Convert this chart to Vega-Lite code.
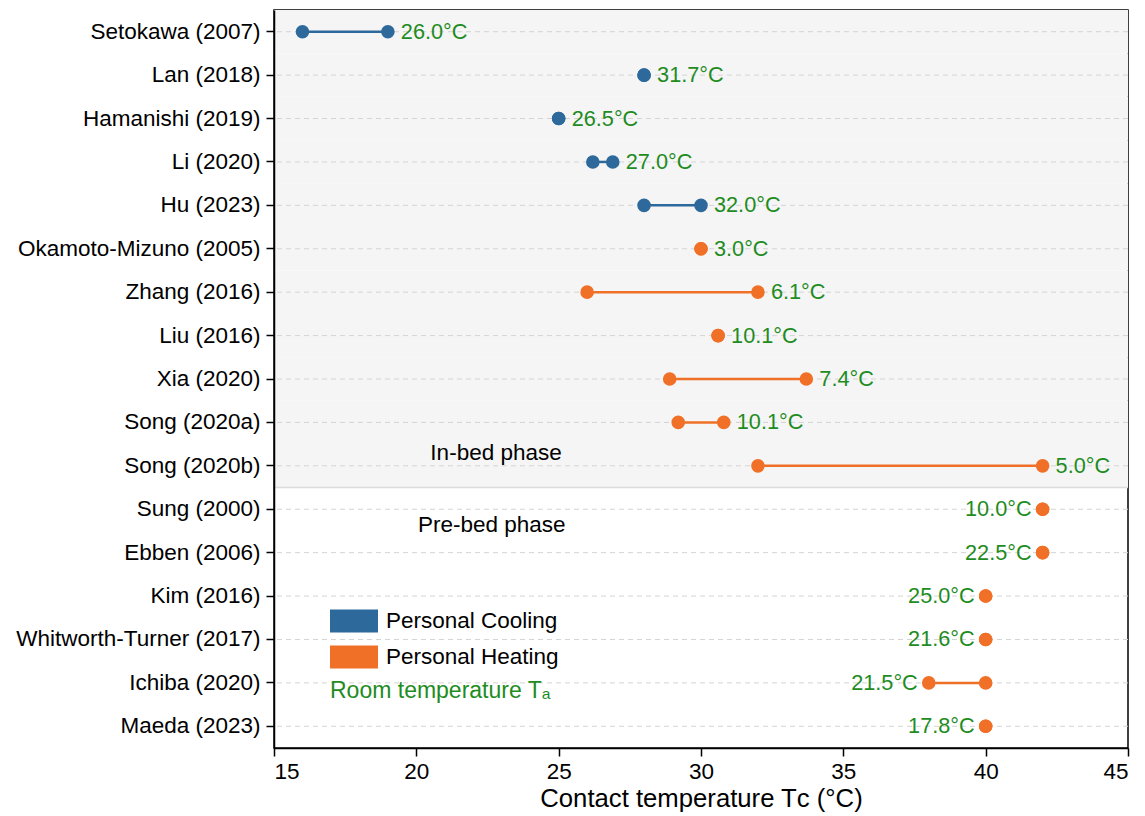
{
  "$schema": "https://vega.github.io/schema/vega-lite/v6.json",
  "width": 854,
  "height": 738,
  "autosize": {"type": "none"},
  "padding": {"left": 274, "top": 10, "right": 17, "bottom": 68},
  "background": "white",
  "config": {
    "font": "Liberation Sans",
    "view": {"stroke": "black", "strokeWidth": 1.5},
    "axis": {"domainColor": "black", "domainWidth": 1.5, "tickColor": "black", "tickWidth": 1.5, "tickSize": 8, "labelColor": "black", "labelFontSize": 22.5, "labelLimit": 0, "titleColor": "black", "titleFontWeight": "normal", "grid": false},
    "legend": {
      "orient": "none", "legendX": 56, "legendY": 587,
      "titleOrient": "bottom", "titleAnchor": "start",
      "titleColor": "#1e8c1e", "titleFontSize": 23, "titleFontWeight": "normal", "titlePadding": 11, "titleLimit": 0,
      "symbolType": "M-1,-0.48H1V0.48H-1Z", "symbolSize": 2304, "symbolStrokeWidth": 0, "symbolOpacity": 1,
      "labelFontSize": 22.5, "labelColor": "black", "labelOffset": 8, "labelLimit": 0, "rowPadding": -12
    }
  },
  "datasets": {
    "studies": [
      {"name": "Setokawa (2007)", "type": "Personal Cooling", "phase": "in", "min": 16, "max": 19, "label": "26.0°C"},
      {"name": "Lan (2018)", "type": "Personal Cooling", "phase": "in", "min": 28, "max": 28, "label": "31.7°C"},
      {"name": "Hamanishi (2019)", "type": "Personal Cooling", "phase": "in", "min": 25, "max": 25, "label": "26.5°C"},
      {"name": "Li (2020)", "type": "Personal Cooling", "phase": "in", "min": 26.2, "max": 26.9, "label": "27.0°C"},
      {"name": "Hu (2023)", "type": "Personal Cooling", "phase": "in", "min": 28, "max": 30, "label": "32.0°C"},
      {"name": "Okamoto-Mizuno (2005)", "type": "Personal Heating", "phase": "in", "min": 30, "max": 30, "label": "3.0°C"},
      {"name": "Zhang (2016)", "type": "Personal Heating", "phase": "in", "min": 26, "max": 32, "label": "6.1°C"},
      {"name": "Liu (2016)", "type": "Personal Heating", "phase": "in", "min": 30.6, "max": 30.6, "label": "10.1°C"},
      {"name": "Xia (2020)", "type": "Personal Heating", "phase": "in", "min": 28.9, "max": 33.7, "label": "7.4°C"},
      {"name": "Song (2020a)", "type": "Personal Heating", "phase": "in", "min": 29.2, "max": 30.8, "label": "10.1°C"},
      {"name": "Song (2020b)", "type": "Personal Heating", "phase": "in", "min": 32, "max": 42, "label": "5.0°C"},
      {"name": "Sung (2000)", "type": "Personal Heating", "phase": "pre", "min": 42, "max": 42, "label": "10.0°C"},
      {"name": "Ebben (2006)", "type": "Personal Heating", "phase": "pre", "min": 42, "max": 42, "label": "22.5°C"},
      {"name": "Kim (2016)", "type": "Personal Heating", "phase": "pre", "min": 40, "max": 40, "label": "25.0°C"},
      {"name": "Whitworth-Turner (2017)", "type": "Personal Heating", "phase": "pre", "min": 40, "max": 40, "label": "21.6°C"},
      {"name": "Ichiba (2020)", "type": "Personal Heating", "phase": "pre", "min": 38, "max": 40, "label": "21.5°C"},
      {"name": "Maeda (2023)", "type": "Personal Heating", "phase": "pre", "min": 40, "max": 40, "label": "17.8°C"}
    ],
    "phases": [
      {"text": "In-bed phase", "x": 22.8, "row": "Song (2020b)", "phase": "in"},
      {"text": "Pre-bed phase", "x": 22.65, "row": "Sung (2000)", "phase": "pre"}
    ]
  },
  "data": {"name": "studies"},
  "encoding": {
    "y": {
      "field": "name", "type": "nominal",
      "scale": {"type": "band", "paddingInner": 0, "paddingOuter": 0,
        "domain": ["Setokawa (2007)", "Lan (2018)", "Hamanishi (2019)", "Li (2020)", "Hu (2023)", "Okamoto-Mizuno (2005)", "Zhang (2016)", "Liu (2016)", "Xia (2020)", "Song (2020a)", "Song (2020b)", "Sung (2000)", "Ebben (2006)", "Kim (2016)", "Whitworth-Turner (2017)", "Ichiba (2020)", "Maeda (2023)"]},
      "axis": {"title": null, "bandPosition": 0.5, "labelPadding": 6}
    }
  },
  "layer": [
    {
      "transform": [{"filter": "datum.phase === 'in'"}],
      "mark": {"type": "rect", "fill": "#f5f5f5"},
      "encoding": {}
    },
    {
      "mark": {"type": "rule", "color": "#d4d4d4", "strokeWidth": 1, "strokeDash": [5, 4]},
      "encoding": {}
    },
    {
      "transform": [{"filter": "datum.name === 'Song (2020b)'"}],
      "mark": {"type": "rule", "color": "#dcdcdc", "strokeWidth": 1.5},
      "encoding": {"y": {"field": "name", "type": "nominal", "bandPosition": 1}}
    },
    {
      "mark": {"type": "rule", "strokeWidth": 2.5},
      "encoding": {
        "x": {"field": "min", "type": "quantitative", "scale": {"domain": [15, 45], "nice": false}, "axis": {"values": [15, 20, 25, 30, 35, 40, 45], "title": "Contact temperature Tᴄ (°C)", "titleFontSize": 25.7, "labelPadding": 4, "titlePadding": 4}},
        "x2": {"field": "max"},
        "color": {"field": "type", "type": "nominal", "scale": {"domain": ["Personal Cooling", "Personal Heating"], "range": ["#2d699b", "#f07027"]}, "legend": {"title": " Room temperature Tₐ"}}
      }
    },
    {
      "transform": [{"fold": ["min", "max"], "as": ["end", "value"]}],
      "mark": {"type": "point", "filled": true, "size": 185, "opacity": 1},
      "encoding": {
        "x": {"field": "value", "type": "quantitative"},
        "color": {"field": "type", "type": "nominal", "legend": {"title": " Room temperature Tₐ"}}
      }
    },
    {
      "transform": [{"filter": "datum.phase === 'in'"}],
      "mark": {"type": "text", "align": "left", "baseline": "middle", "dx": 13, "fontSize": 21.7, "color": "#1e8c1e"},
      "encoding": {"x": {"field": "max", "type": "quantitative"}, "text": {"field": "label"}}
    },
    {
      "transform": [{"filter": "datum.phase === 'pre'"}],
      "mark": {"type": "text", "align": "right", "baseline": "middle", "dx": -11, "fontSize": 21.7, "color": "#1e8c1e"},
      "encoding": {"x": {"field": "min", "type": "quantitative"}, "text": {"field": "label"}}
    },
    {
      "data": {"name": "phases"},
      "transform": [{"filter": "datum.phase === 'in'"}],
      "mark": {"type": "text", "align": "center", "baseline": "middle", "dy": -13, "fontSize": 22.5, "color": "black"},
      "encoding": {"x": {"field": "x", "type": "quantitative"}, "y": {"field": "row", "type": "nominal"}, "text": {"field": "text"}}
    },
    {
      "data": {"name": "phases"},
      "transform": [{"filter": "datum.phase === 'pre'"}],
      "mark": {"type": "text", "align": "center", "baseline": "middle", "dy": 16, "fontSize": 22.5, "color": "black"},
      "encoding": {"x": {"field": "x", "type": "quantitative"}, "y": {"field": "row", "type": "nominal"}, "text": {"field": "text"}}
    }
  ]
}
